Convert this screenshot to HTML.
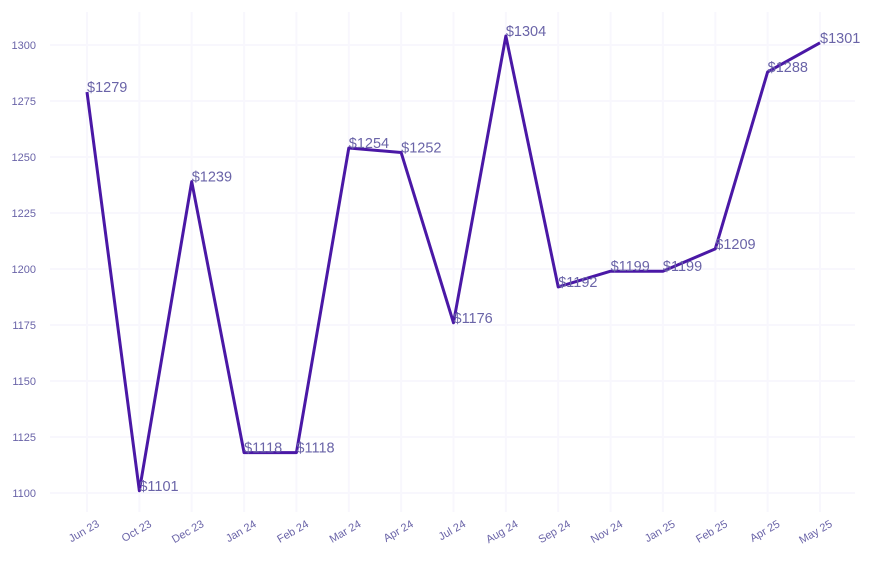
<!DOCTYPE html>
<html><head><meta charset="utf-8"><style>
body{margin:0;background:#fff;font-family:"Liberation Sans",sans-serif}
</style></head><body>
<svg id="chart" width="873" height="565" xmlns="http://www.w3.org/2000/svg">
<g id="grid"></g>
<g id="yaxis"></g>
<g id="xaxis"></g>
<g id="series"></g>
</svg>
<script>
const categories=["Jun 23","Oct 23","Dec 23","Jan 24","Feb 24","Mar 24","Apr 24","Jul 24","Aug 24","Sep 24","Nov 24","Jan 25","Feb 25","Apr 25","May 25"];
const values=[1279,1101,1239,1118,1118,1254,1252,1176,1304,1192,1199,1199,1209,1288,1301];
const yTicks=[1100,1125,1150,1175,1200,1225,1250,1275,1300];
const NS="http://www.w3.org/2000/svg";
function x(i){return 87+i*(820-87)/(categories.length-1);}
function y(v){return 493-(v-1100)*448/200;}
function mk(tag,attrs,parent){const e=document.createElementNS(NS,tag);for(const k in attrs)e.setAttribute(k,attrs[k]);parent.appendChild(e);return e;}
const grid=document.getElementById('grid'),ya=document.getElementById('yaxis'),xa=document.getElementById('xaxis'),s=document.getElementById('series');
yTicks.forEach(t=>{
 const l=mk('line',{x1:50,x2:855,y1:y(t),y2:y(t),stroke:'#f8f7fd','stroke-width':2},grid);
 
 
 const tx=mk('text',{x:36,y:y(t)+4,'text-anchor':'end','font-size':11,fill:'#6a64a8'},ya);
 tx.textContent=t;
 
 
});
categories.forEach((c,i)=>{
 const l=mk('line',{x1:x(i),x2:x(i),y1:12,y2:512,stroke:'#f8f7fd','stroke-width':2},grid);
 
 
 const ax=x(i)+13, ay=526;
 const tx=mk('text',{x:ax,y:ay,'text-anchor':'end','font-size':11,fill:'#6a64a8',transform:`rotate(-30 ${ax} ${ay})`},xa);
 tx.textContent=c;
 
 
});
const p=mk('polyline',{points:values.map((v,i)=>x(i)+','+y(v)).join(' '),fill:'none',stroke:'#4a18a6','stroke-width':3,'stroke-linejoin':'round'},s);


values.forEach((v,i)=>{
 const t=mk('text',{x:x(i),y:y(v)+0,'font-size':14.5,fill:'#6a64a8'},s);
 t.textContent='$'+v;
 
 
});
</script>
</body></html>
